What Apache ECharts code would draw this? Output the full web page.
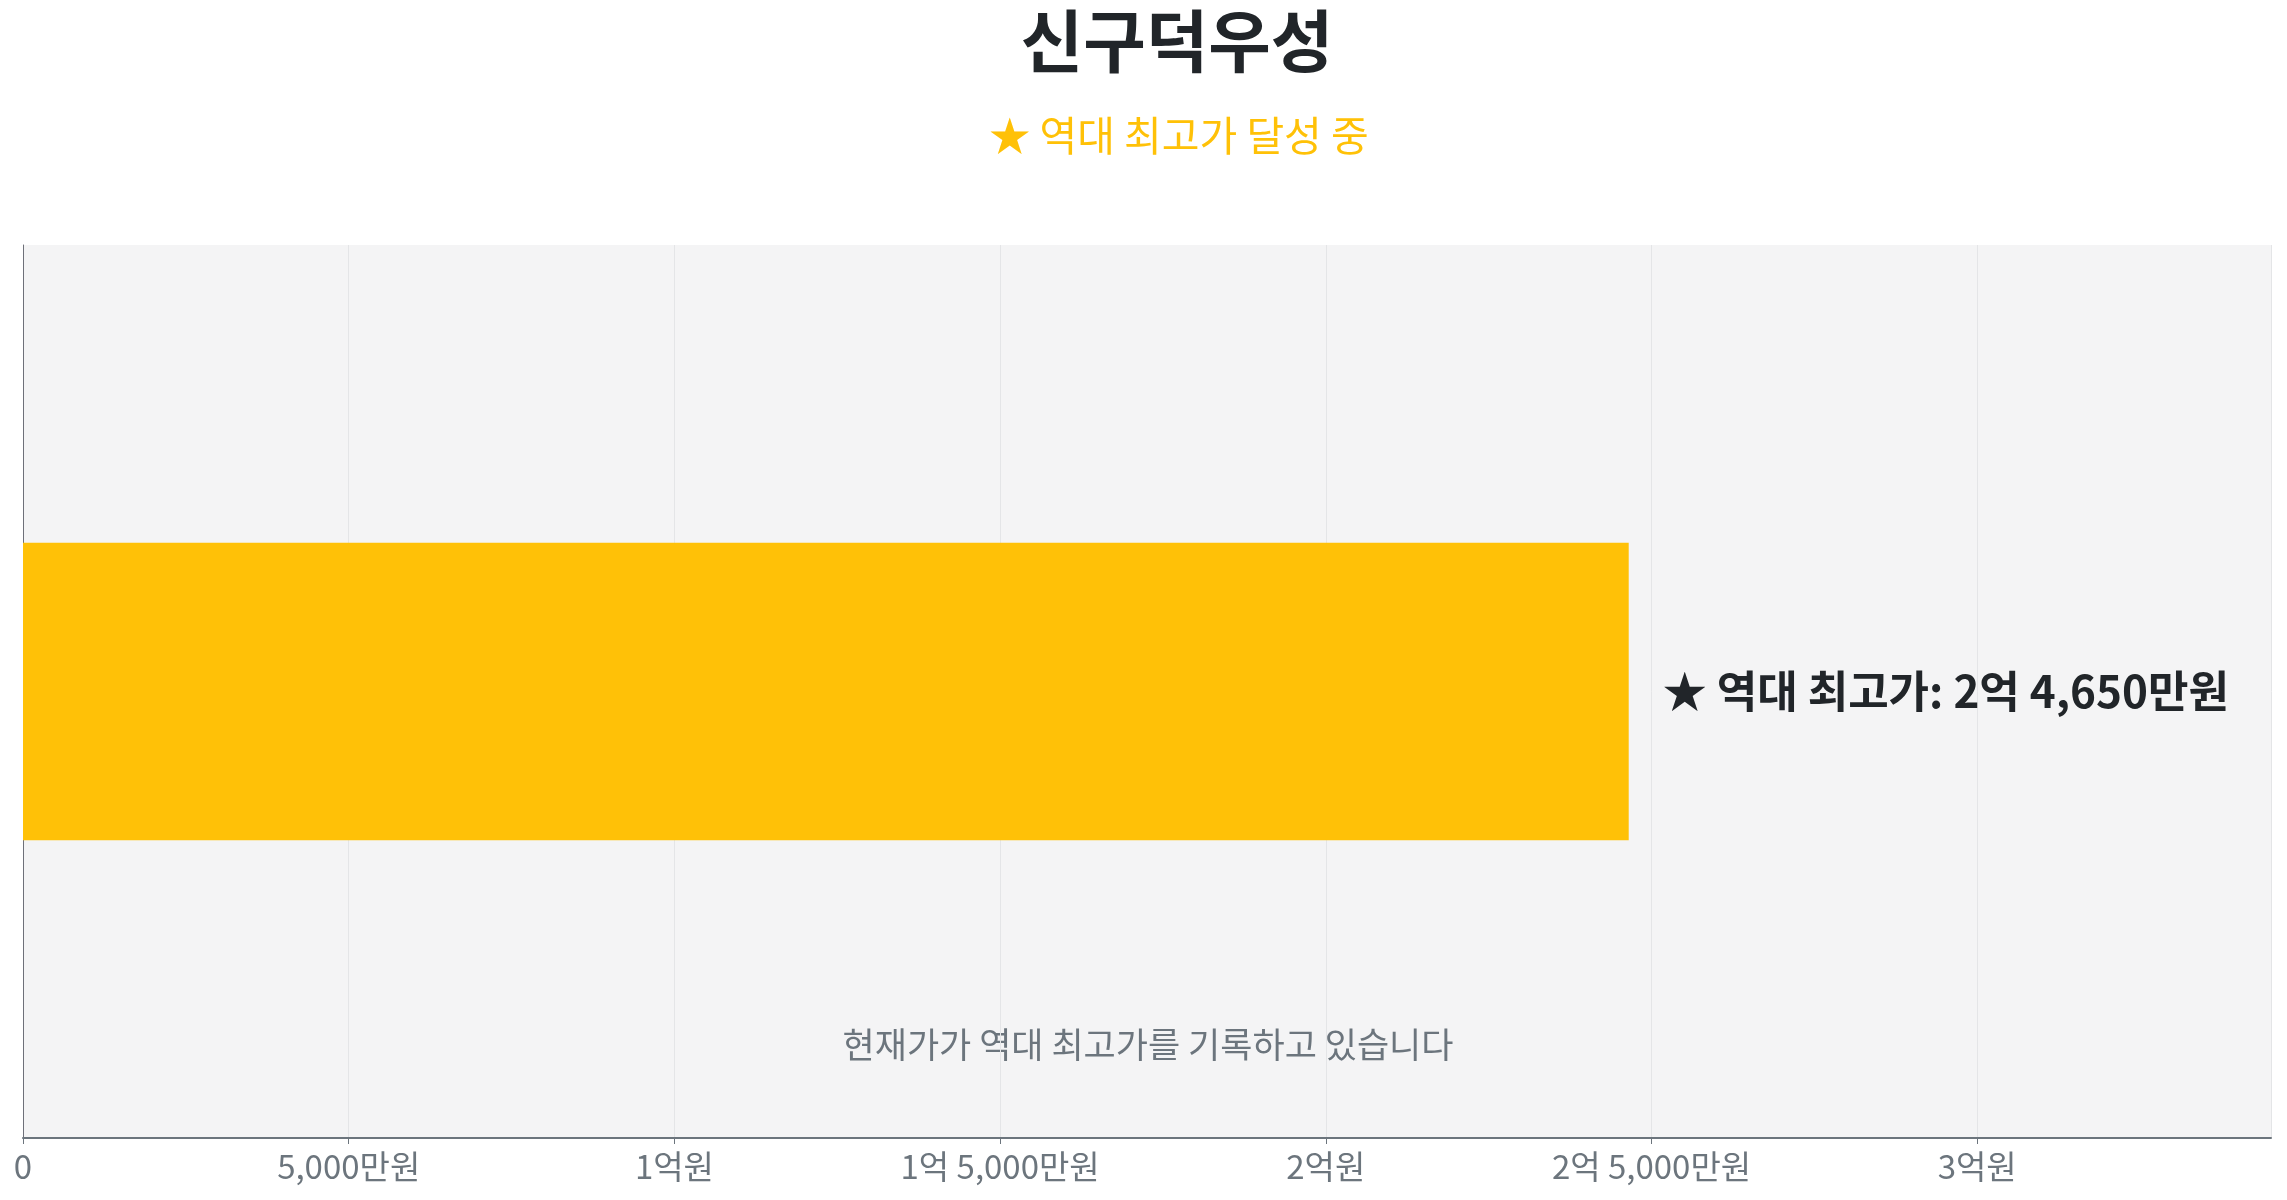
<!DOCTYPE html>
<html>
<head>
<meta charset="utf-8">
<script src="https://cdn.jsdelivr.net/npm/echarts@6/dist/echarts.min.js"></script>
<style>
html,body{margin:0;padding:0;background:#fff;}
#chart{width:2287px;height:1200px;}
</style>
</head>
<body>
<div id="chart"></div>
<script>
// Data (values in 만원)
const categories = ['신구덕우성'];
const currentValues = [24650];
const xMax = 34510;
const tickInterval = 5000;
const titleText = '신구덕우성';
const subtitleText = '★ 역대 최고가 달성 중';
const barLabelText = '★ 역대 최고가: 2억 4,650만원';
const noteText = '현재가가 역대 최고가를 기록하고 있습니다';

const FONT = '"Noto Sans CJK KR", "Noto Sans", sans-serif';

function fmtManwon(v) {
  if (v === 0) return '0';
  const eok = Math.floor(v / 10000);
  const man = v % 10000;
  let s = '';
  if (eok > 0) s += eok + '억';
  if (man > 0) {
    s += (s ? ' ' : '') + man.toLocaleString('en-US') + '만원';
  } else {
    s += '원';
  }
  return s;
}

const chart = echarts.init(document.getElementById('chart'));
chart.setOption({
  backgroundColor: '#ffffff',
  animation: false,
  title: [
    {
      text: titleText,
      left: 1172, top: 2, textAlign: 'center',
      textStyle: { fontFamily: FONT, fontSize: 68, fontWeight: 'bold', color: '#212529' }
    },
    {
      text: subtitleText,
      left: 1174, top: 110, textAlign: 'center',
      textStyle: { fontFamily: FONT, fontSize: 41, fontWeight: 'normal', color: '#FFC107' }
    }
  ],
  grid: {
    left: 23, right: 16, top: 245, bottom: 62,
    show: true, backgroundColor: '#f4f4f5', borderWidth: 0
  },
  xAxis: {
    type: 'value',
    min: 0, max: xMax, interval: tickInterval,
    axisLine: { show: true, lineStyle: { color: '#6c757d', width: 2 } },
    axisTick: { show: true, length: 6, lineStyle: { color: '#6c757d' } },
    splitLine: { show: true, lineStyle: { color: '#e4e5e7', width: 1 } },
    axisLabel: {
      showMaxLabel: false,
      margin: 12,
      color: '#6c757d', fontFamily: FONT, fontSize: 33,
      formatter: fmtManwon
    }
  },
  yAxis: {
    type: 'category',
    data: categories,
    axisLine: { show: true, lineStyle: { color: '#6e7079', width: 1 } },
    axisTick: { show: false },
    axisLabel: { show: false },
    splitLine: { show: false }
  },
  series: [{
    type: 'bar',
    data: currentValues,
    barWidth: '33.3%',
    itemStyle: { color: '#FFC107' },
    label: {
      show: true, position: 'right', distance: 34,
      formatter: barLabelText,
      fontFamily: FONT, fontSize: 44, fontWeight: 'bold', color: '#212529'
    }
  }],
  graphic: [{
    type: 'text',
    x: 1148, y: 1045,
    style: { text: noteText, fontFamily: FONT, fontSize: 35, fill: '#6c757d', align: 'center', verticalAlign: 'middle' }
  }]
});
</script>
</body>
</html>
